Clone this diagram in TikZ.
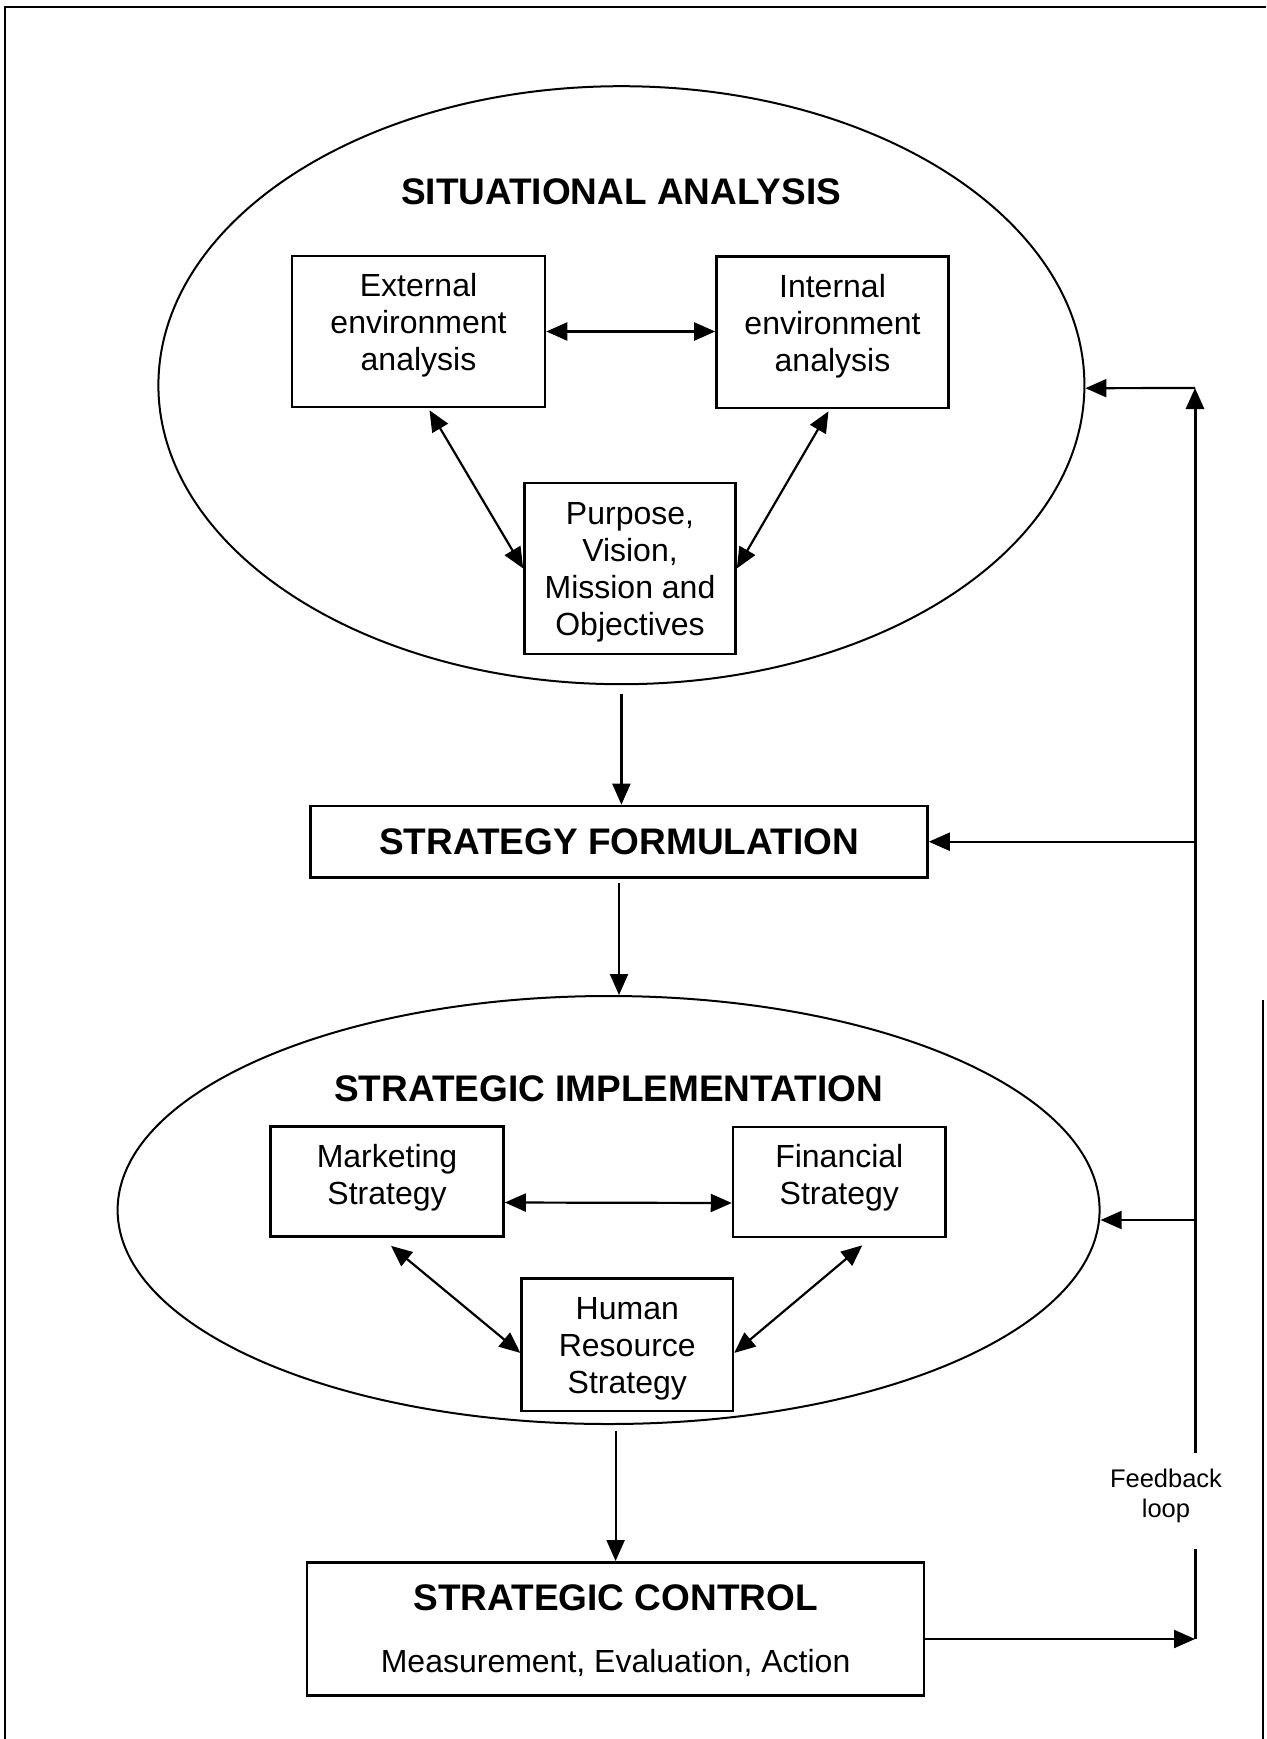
\documentclass[tikz,border=0pt]{standalone}
\usepackage{fontspec}
\setmainfont{Liberation Sans}
\usetikzlibrary{arrows.meta,shapes.geometric,calc}

\begin{document}
\begin{tikzpicture}[x=1pt,y=-1pt,
  frame/.style={line width=2.4pt},
  box/.style={draw, line width=2.6pt, inner sep=0pt},
  ell/.style={draw, ellipse, line width=2pt, inner sep=0pt},
  ttl/.style={font=\fontsize{37}{42}\selectfont\bfseries},
  body/.style={font=\fontsize{32}{36.8}\selectfont, align=center, inner sep=0pt},
  fbtxt/.style={font=\fontsize{25.5}{29.3}\selectfont, align=center, inner sep=0pt},
  tip/.tip={Triangle[length=21pt,width=18pt]},
  arr/.style={line width=2.2pt, -tip},
  dbl/.style={line width=2.2pt, tip-tip},
  fbl/.style={line width=3pt}]

\useasboundingbox (0,0) rectangle (1266,1739);

% page frame (top, left, and the lower part of the right edge)
\draw[frame] (1266,7) -- (5,7) -- (5,1739);
\draw[frame] (1263,1000) -- (1263,1739);

% ---- situational analysis ----
\node[ell, minimum width=926pt, minimum height=598pt] (sa) at (621.4,385.2) {};
\node[ttl] (sa-t) at (621,191.5) {SITUATIONAL ANALYSIS};

\node[box, minimum width=253pt, minimum height=151pt] (ext) at (418.5,331.5) {};
\node[body] (ext-t) at ($(ext.center)+(0,-6)$) {External\\environment\\analysis};

\node[box, minimum width=232pt, minimum height=151.5pt] (int) at (832.5,332.3) {};
\node[body] (int-t) at ($(int.center)+(0,-6)$) {Internal\\environment\\analysis};

\node[box, minimum width=211pt, minimum height=171pt] (pvm) at (630,568.5) {};
\node[body] (pvm-t) at ($(pvm.center)+(0,4)$) {Purpose,\\Vision,\\Mission and\\Objectives};

\draw[dbl] (ext.east) -- (ext.east -| int.west);
\draw[dbl] ($(ext.south)+(11,2)$) -- (pvm.west);
\draw[dbl] ($(int.south)+(-4,2)$) -- (pvm.east);

% ---- strategy formulation ----
\node[box, ttl, minimum width=617pt, minimum height=71.5pt] (sf) at (619,841.7) {STRATEGY FORMULATION};

\draw[arr] ($(sa.south)+(0,9)$) -- (sa.south |- sf.north);

% ---- strategic implementation ----
\node[ell, minimum width=982pt, minimum height=428pt] (si) at (608.6,1210) {};
\node[ttl] (si-t) at (608.5,1089) {STRATEGIC IMPLEMENTATION};

\node[box, minimum width=233pt, minimum height=110pt] (mkt) at (387,1181.5) {};
\node[body] (mkt-t) at ($(mkt.center)+(0,-4)$) {Marketing\\Strategy};

\node[box, minimum width=212.5pt, minimum height=110pt] (fin) at (839.3,1182) {};
\node[body] (fin-t) at ($(fin.center)+(0,-4)$) {Financial\\Strategy};

\node[box, minimum width=211.3pt, minimum height=132.3pt] (hr) at (627.3,1344.9) {};
\node[body] (hr-t) at ($(hr.center)+(0,4)$) {Human\\Resource\\Strategy};

\draw[arr] ($(sf.south)+(0,4)$) -- (sf.south |- si.north);
\draw[dbl] ($(mkt.east)+(0,21)$) -- ($(fin.west)+(0,21)$);
\draw[dbl] ($(mkt.south)+(4,8)$) -- ($(hr.west)+(0,8)$);
\draw[dbl] ($(fin.south)+(23,7)$) -- ($(hr.east)+(0,8)$);

% ---- strategic control ----
\node[box, minimum width=617pt, minimum height=133.3pt] (sc) at (615.6,1629) {};
\node[ttl] (sc-t) at (615.6,1598) {STRATEGIC CONTROL};
\node[body] (sc-s) at (615.6,1663) {Measurement, Evaluation, Action};

\draw[arr] ($(si.south -| sc.north)+(0,6)$) -- (sc.north);

% ---- feedback loop ----
\coordinate (fb-a) at (1195,388);
\coordinate (fb-b) at (sf.east -| fb-a);
\coordinate (fb-c) at (1195,1220);
\coordinate (fb-d) at (1195,1452.7);
\coordinate (fb-e) at (1195,1549);
\coordinate (fb-f) at (1195,1639);

\draw[arr] ($(sc.east)+(0,10)$) -- (fb-f);
\draw[fbl] (fb-f) -- (fb-e);
\draw[fbl, -tip] (fb-d) -- (fb-a);
\draw[arr] (fb-a) -- ($(sa.east)+(0,3)$);
\draw[arr] (fb-b) -- (sf.east);
\draw[arr] (fb-c) -- ($(si.east)+(0,10)$);

\node[fbtxt] (fb-t) at (1166,1496) {Feedback\\loop};

\end{tikzpicture}
\end{document}
